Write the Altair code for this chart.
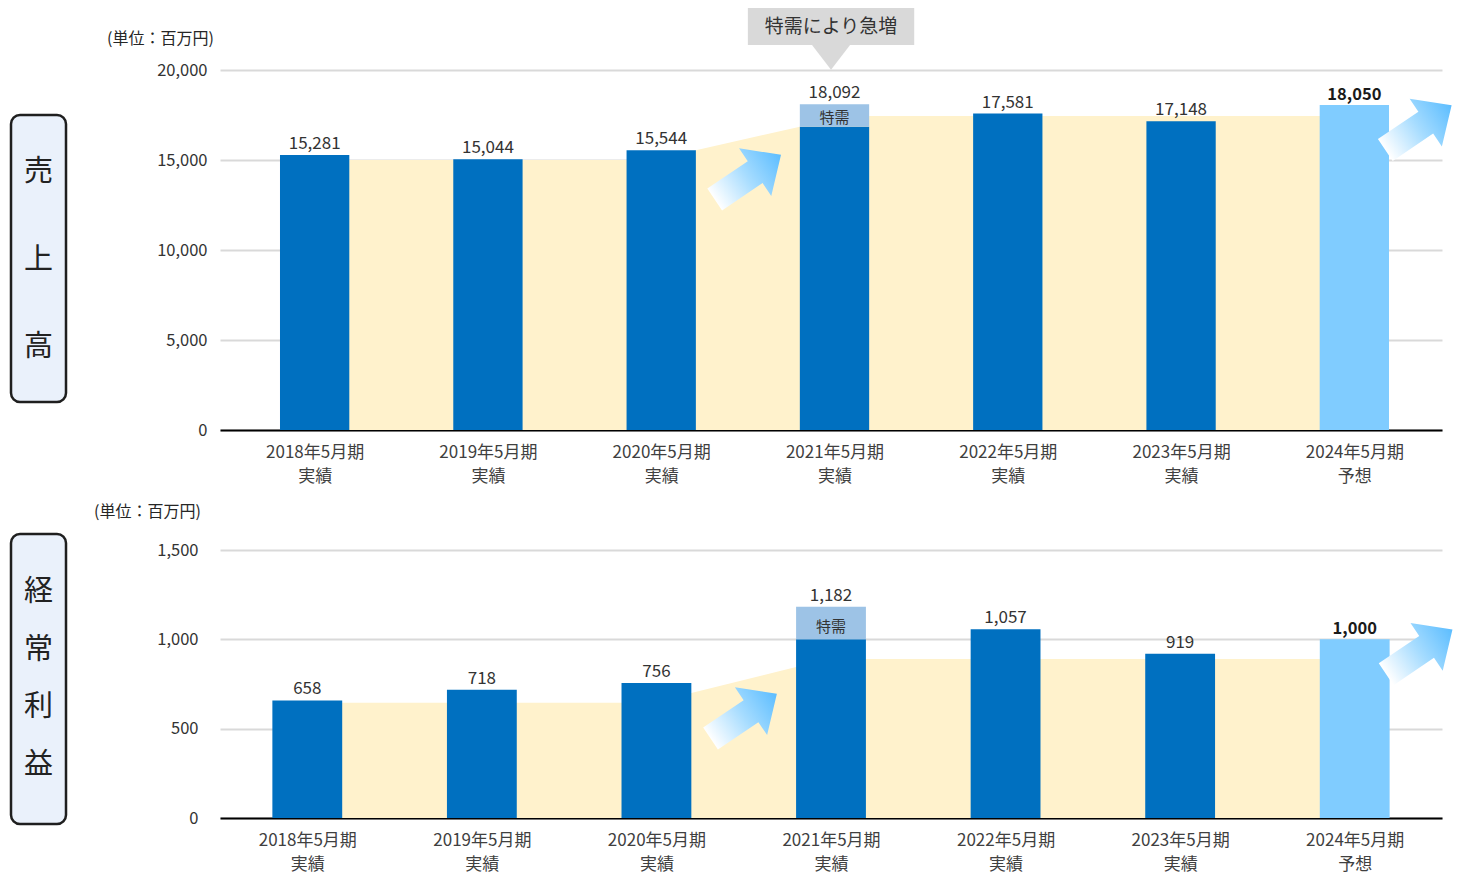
import altair as alt
import pandas as pd

# ---------------- data ----------------
years = ["2018年5月期", "2019年5月期", "2020年5月期", "2021年5月期",
         "2022年5月期", "2023年5月期", "2024年5月期"]
kinds = ["実績", "実績", "実績", "実績", "実績", "実績", "予想"]
sales = [15281, 15044, 15544, 18092, 17581, 17148, 18050]
profit = [658, 718, 756, 1182, 1057, 919, 1000]

special_index = 3
sales_special_base = 16850
profit_special_base = 1000
special_label = "特需"

band_x = [0, 2, 2.2, 2.8, 3.2, 6]
sales_band_y = [15000, 15000, 15544, 16850, 17450, 17450]
profit_band_y = [645, 645, 700, 845, 890, 890]

arrow_x = [2.5, 6.37]
sales_arrow_y = [14050, 16800]
profit_arrow_y = [570, 930]

sales_ticks = [0, 5000, 10000, 15000, 20000]
profit_ticks = [0, 500, 1000, 1500]

unit_text = "(単位：百万円)"
sales_title = ["売", "上", "高"]
profit_title = ["経", "常", "利", "益"]
callout_text = "特需により急増"

# ---------------- style ----------------
FONT = "Noto Sans CJK JP"
DARK = "#0070C0"
LIGHT = "#80CCFF"
SPECIAL = "#9DC3E6"
CREAM = "#FFF2CC"
GRID = "#D9D9D9"
TXT = "#333333"

label_expr = "[" + ",".join(f"['{y}','{k}']" for y, k in zip(years, kinds)) + "][datum.value]"

arrow_path = "M -1 -0.33 L 0.22 -0.33 L 0.22 -0.72 L 1 0 L 0.22 0.72 L 0.22 0.33 L -1 0.33 Z"
arrow_fill = alt.Gradient(
    gradient="linear",
    stops=[alt.GradientStop(color="#FFFFFF", offset=0),
           alt.GradientStop(color="#A6DCFF", offset=0.5),
           alt.GradientStop(color="#5CBDFF", offset=1)],
    x1=0, x2=1, y1=0, y2=0,
)


def panel(values, special_base, band_y, arrow_y, ticks, width, height,
          xdomain, ylabel_pad, box, chars, char_y, char_lh, unit_pos,
          special_dy, callout=False):
    ymax = ticks[-1]
    rows = []
    for i, (yr, k, v) in enumerate(zip(years, kinds, values)):
        base = special_base if i == special_index else v
        rows.append({"i": i, "year": yr, "kind": k, "value": v, "base": base})
    df = pd.DataFrame(rows)

    xscale = alt.Scale(domain=xdomain, nice=False, zero=False)
    yscale = alt.Scale(domain=[0, ymax], nice=False)

    x_axis = alt.Axis(values=list(range(len(years))), grid=False, ticks=False,
                      domainColor="#000000", domainWidth=2, labelExpr=label_expr,
                      labelFont=FONT, labelFontSize=17, labelColor="#404040",
                      labelLineHeight=24.5, labelPadding=14, labelFlush=False,
                      labelOverlap=False, title=None)
    y_axis = alt.Axis(values=ticks, labelExpr="format(datum.value, ',')", grid=True,
                      gridColor=GRID, gridWidth=2,
                      domain=False, ticks=False, labelFont=FONT, labelFontSize=16.5,
                      labelColor=TXT, labelPadding=ylabel_pad, title=None)

    band_df = pd.DataFrame({"x": band_x, "y": band_y})
    band = alt.Chart(band_df).mark_area(color=CREAM, opacity=1).encode(
        x=alt.X("x:Q", scale=xscale, axis=x_axis),
        y=alt.Y("y:Q", scale=yscale, axis=y_axis),
    )

    bars = alt.Chart(df).transform_calculate(
        x0="datum.i - 0.2", x1="datum.i + 0.2"
    ).mark_bar().encode(
        x="x0:Q", x2="x1:Q",
        y=alt.Y("base:Q"), y2=alt.datum(0),
        color=alt.Color("kind:N", scale=alt.Scale(domain=["実績", "予想"], range=[DARK, LIGHT]),
                        legend=None),
    )

    sp = df[df.i == special_index]
    special = alt.Chart(sp).transform_calculate(
        x0="datum.i - 0.2", x1="datum.i + 0.2", mid="(datum.base + datum.value) / 2"
    )
    special_bar = special.mark_bar(color=SPECIAL).encode(
        x="x0:Q", x2="x1:Q", y="base:Q", y2="value:Q")
    special_txt = special.mark_text(text=special_label, font=FONT, fontSize=15,
                                    color=TXT, baseline="middle", dy=special_dy).encode(
        x="i:Q", y="mid:Q")

    vlab = alt.Chart(df[df.kind == "実績"]).mark_text(
        font=FONT, fontSize=17, color=TXT, baseline="bottom", dy=-2).encode(
        x="i:Q", y="value:Q", text=alt.Text("value:Q", format=","))
    vlab_b = alt.Chart(df[df.kind == "予想"]).mark_text(
        font=FONT, fontSize=16.5, color="#1a1a1a", fontWeight="bold",
        baseline="bottom", dy=-2).encode(
        x="i:Q", y="value:Q", text=alt.Text("value:Q", format=","))

    arrows = alt.Chart(pd.DataFrame({"x": arrow_x, "y": arrow_y})).mark_point(
        shape=arrow_path, size=6400, angle=326, filled=True, fill=arrow_fill,
        strokeWidth=0, opacity=1).encode(x="x:Q", y="y:Q")

    one = alt.Data(values=[{}])
    boxm = alt.Chart(one).mark_rect(cornerRadius=9, fill="#EAF1FB", stroke="#1F1F1F",
                                    strokeWidth=2.5).encode(
        x=alt.value(box[0]), x2=alt.value(box[1]), y=alt.value(box[2]), y2=alt.value(box[3]))
    chars_m = alt.Chart(one).mark_text(text=chars, font=FONT, fontSize=29, color="#222222",
                                       lineHeight=char_lh, baseline="middle",
                                       align="center").encode(
        x=alt.value((box[0] + box[1]) / 2), y=alt.value(char_y))
    unit_m = alt.Chart(one).mark_text(text=unit_text, font=FONT, fontSize=16,
                                      color="#262626", align="left",
                                      baseline="middle").encode(
        x=alt.value(unit_pos[0]), y=alt.value(unit_pos[1]))

    layers = [band, bars, special_bar, special_txt, vlab, vlab_b, arrows, boxm, chars_m, unit_m]

    if callout:
        c = alt.Chart(one)
        c_rect = c.mark_rect(color="#D9D9D9").encode(
            x=alt.datum(2.5), x2=alt.datum(3.46), y=alt.datum(21390), y2=alt.datum(23440))
        c_tri = c.mark_point(shape="M -1 -0.65 L 1 -0.65 L 0 0.65 Z", size=1444, filled=True,
                             color="#D9D9D9", opacity=1, strokeWidth=0).encode(
            x=alt.datum(2.98), y=alt.datum(20700))
        c_txt = c.mark_text(text=callout_text, font=FONT, fontSize=19, color=TXT,
                            baseline="middle").encode(
            x=alt.datum(2.98), y=alt.datum(22400))
        layers += [c_rect, c_tri, c_txt]

    return alt.layer(*layers).properties(width=width, height=height)


top = panel(sales, sales_special_base, sales_band_y, sales_arrow_y, sales_ticks,
            1222, 360, [-0.5462, 6.5058], 13,
            (-209, -154, 45, 332), sales_title, 102, 87.5, (-113, -31), 2, callout=True)
bottom = panel(profit, profit_special_base, profit_band_y, profit_arrow_y, profit_ticks,
               1222, 268, [-0.5, 6.5], 22,
               (-209, -154, -16, 274), profit_title, 42, 57.7, (-126, -38), 4)

chart = alt.vconcat(top, bottom, spacing=19).configure(
    padding={"left": 1, "top": 0, "right": 0, "bottom": 8}
).configure_view(stroke=None)

chart.save("out.html", embed_options={"renderer": "svg", "actions": False})
